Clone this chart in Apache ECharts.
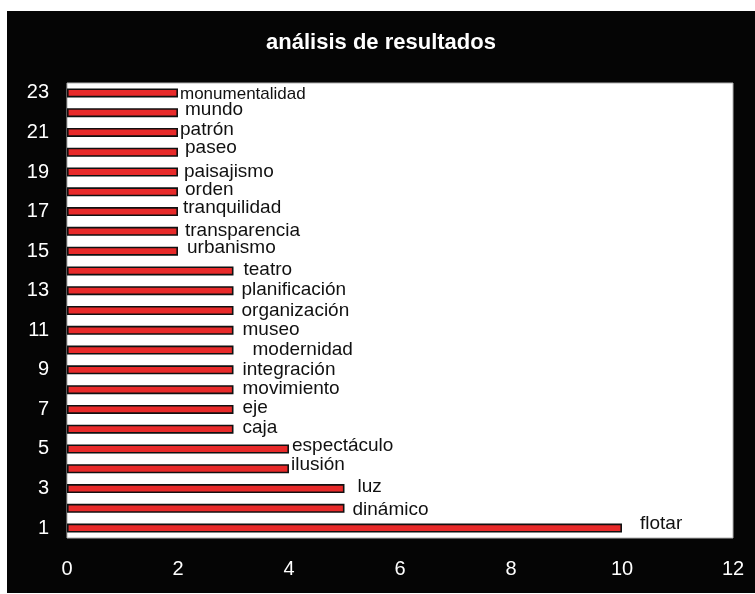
<!DOCTYPE html>
<html>
<head>
<meta charset="utf-8">
<script src="https://cdn.jsdelivr.net/npm/echarts@6/dist/echarts.min.js"></script>
<style>
html,body{margin:0;padding:0;background:#fff;width:755px;height:594px;overflow:hidden;}
#chart{position:absolute;left:7px;top:11px;width:748px;height:582px;background:#050505;}
</style>
</head>
<body>
<div id="chart"></div>
<script>
// Data (bottom category first)
const categoryNumbers = ['1','2','3','4','5','6','7','8','9','10','11','12','13','14','15','16','17','18','19','20','21','22','23'];
const terms = ['flotar','dinámico','luz','ilusión','espectáculo','caja','eje','movimiento','integración','modernidad','museo','organización','planificación','teatro','urbanismo','transparencia','tranquilidad','orden','paisajismo','paseo','patrón','mundo','monumentalidad'];
const counts = [10,5,5,4,4,3,3,3,3,3,3,3,3,3,2,2,2,2,2,2,2,2,2];
const xTicks = [0,2,4,6,8,10,12];
const chartTitle = 'análisis de resultados';

// label placement nudges (styling only), keyed by term
const labelNudge = {
  'flotar':[13,-4],'dinámico':[3,1],'luz':[8,-2],'ilusión':[-3,-4],'espectáculo':[-2,-3],
  'caja':[4,-1],'eje':[4,-2],'movimiento':[4,-1],'integración':[4,0],'modernidad':[14,0],
  'museo':[4,-1],'organización':[3,0],'planificación':[3,-1],'teatro':[5,-1],
  'urbanismo':[4,-3],'transparencia':[2,-1],'tranquilidad':[0,-4],'orden':[2,-2],
  'paisajismo':[1,0],'paseo':[2,-4],'patrón':[-3,-3],'mundo':[2,-3],'monumentalidad':[-3,1]
};

const FONT = '"Liberation Sans", Arial, sans-serif';
const chart = echarts.init(document.getElementById('chart'), null, {renderer:'canvas'});

const seriesData = counts.map((v, i) => {
  const t = terms[i];
  const n = labelNudge[t] || [0,0];
  return {
    value: v,
    name: t,
    label: {
      offset: n,
      fontSize: t === 'monumentalidad' ? 17 : 19
    }
  };
});

chart.setOption({
  backgroundColor: '#050505',
  animation: false,
  title: {
    text: chartTitle,
    left: 'center',
    top: 16,
    textStyle: {color:'#fff', fontSize: 22, fontWeight:'bold', fontFamily: FONT}
  },
  grid: {
    left: 60, top: 72, right: 22, bottom: 55,
    show: true, backgroundColor: '#fff', borderColor: '#b0b0b0', borderWidth: 1
  },
  xAxis: {
    type: 'value',
    min: xTicks[0], max: xTicks[xTicks.length-1], interval: 2,
    axisLine: {show:false}, axisTick: {show:false}, splitLine: {show:false},
    axisLabel: {color:'#fff', fontSize: 20, fontFamily: FONT, margin: 21}
  },
  yAxis: {
    type: 'category',
    data: categoryNumbers,
    axisLine: {show:false}, axisTick: {show:false}, splitLine: {show:false},
    axisLabel: {color:'#fff', fontSize: 20, fontFamily: FONT, margin: 18, interval: 1}
  },
  series: [{
    type: 'bar',
    data: seriesData,
    barWidth: 9,
    itemStyle: {color:'#e82a2a', borderColor:'#111', borderWidth: 1.6},
    label: {
      show: true,
      position: 'right',
      distance: 5,
      color: '#111',
      fontFamily: FONT,
      fontSize: 19,
      formatter: p => p.name
    }
  }]
});
</script>
</body>
</html>
